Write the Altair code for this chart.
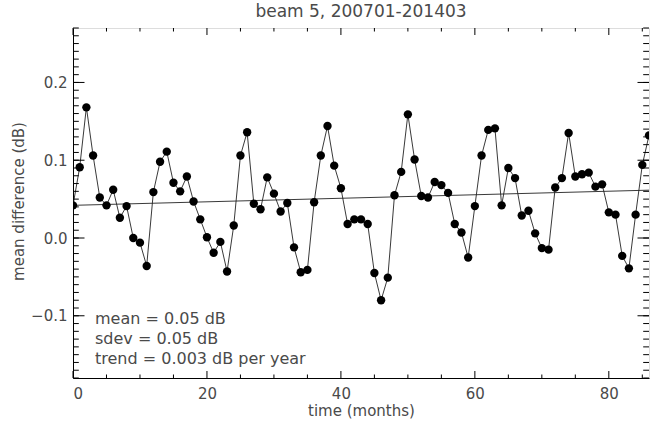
import altair as alt
import pandas as pd

months = list(range(87))
values = [
    0.042, 0.091, 0.168, 0.106, 0.052, 0.042, 0.062, 0.026, 0.041, 0.000,
    -0.006, -0.036, 0.059, 0.098, 0.111, 0.071, 0.060, 0.079, 0.047, 0.024,
    0.001, -0.019, -0.005, -0.043, 0.016, 0.106, 0.136, 0.044, 0.037, 0.078,
    0.057, 0.034, 0.045, -0.012, -0.044, -0.041, 0.046, 0.106, 0.144, 0.093,
    0.064, 0.018, 0.024, 0.024, 0.018, -0.045, -0.080, -0.051, 0.055, 0.085,
    0.159, 0.101, 0.054, 0.052, 0.072, 0.068, 0.058, 0.018, 0.007, -0.025,
    0.041, 0.106, 0.139, 0.141, 0.042, 0.090, 0.077, 0.029, 0.035, 0.006,
    -0.013, -0.015, 0.065, 0.077, 0.135, 0.079, 0.082, 0.084, 0.066, 0.069,
    0.033, 0.030, -0.023, -0.039, 0.030, 0.094, 0.132,
]

# trend line end points
trend_months = [0, 86]
trend_values = [0.042, 0.0615]

x_major = [0, 20, 40, 60, 80]
x_minor = [5, 10, 15, 25, 30, 35, 45, 50, 55, 65, 70, 75, 85]
y_major = [-0.1, 0.0, 0.1, 0.2]
y_minor = [round(-0.18 + 0.01 * i, 2) for i in range(46)]

annotations = ["mean = 0.05 dB", "sdev = 0.05 dB", "trend = 0.003 dB per year"]

W, H = 576, 350
FONT = "DejaVu Sans"
TXT = "#4a4a4a"

df = pd.DataFrame({"month": months, "value": values})
tdf = pd.DataFrame({"month": trend_months, "value": trend_values})

xs = alt.Scale(domain=[0, 86], nice=False, zero=False)
ys = alt.Scale(domain=[-0.18, 0.27], nice=False, zero=False)

base = alt.Chart(df)

line = base.mark_line(color="#222222", strokeWidth=0.9, clip=True).encode(
    x=alt.X("month:Q", scale=xs,
            axis=alt.Axis(values=x_major, ticks=False, grid=False, labelPadding=8,
                          title="time (months)", titleY=32, titleBaseline="middle",
                          domainColor="#000", labelColor=TXT, titleColor=TXT,
                          labelFontSize=15, titleFontSize=15, labelFont=FONT, titleFont=FONT,
                          titleFontWeight="normal")),
    y=alt.Y("value:Q", scale=ys,
            axis=alt.Axis(values=y_major, format=".1f", ticks=False, grid=False, labelPadding=6,
                          title="mean difference (dB)", titleX=-55, titleY=173,
                          titleAngle=270, titleAlign="center", titleBaseline="middle",
                          domainColor="#000", labelColor=TXT, titleColor=TXT,
                          labelFontSize=15, titleFontSize=15, labelFont=FONT, titleFont=FONT,
                          titleFontWeight="normal")),
)

points = base.mark_circle(color="#000000", opacity=1, size=70, clip=True).encode(
    x=alt.X("month:Q", scale=xs), y=alt.Y("value:Q", scale=ys)
)

trend = alt.Chart(tdf).mark_line(color="#222222", strokeWidth=0.9, clip=True).encode(
    x=alt.X("month:Q", scale=xs), y=alt.Y("value:Q", scale=ys)
)

def xticks(vals, length):
    d = pd.DataFrame({"t": vals})
    bot = alt.Chart(d).mark_rule(color="#000", strokeWidth=1).encode(
        x=alt.X("t:Q", scale=xs), y=alt.value(H), y2=alt.value(H - length))
    top = alt.Chart(d).mark_rule(color="#000", strokeWidth=1).encode(
        x=alt.X("t:Q", scale=xs), y=alt.value(0), y2=alt.value(length))
    return [bot, top]

def yticks(vals, length):
    d = pd.DataFrame({"t": vals})
    left = alt.Chart(d).mark_rule(color="#000", strokeWidth=1).encode(
        y=alt.Y("t:Q", scale=ys), x=alt.value(0), x2=alt.value(length))
    right = alt.Chart(d).mark_rule(color="#000", strokeWidth=1).encode(
        y=alt.Y("t:Q", scale=ys), x=alt.value(W), x2=alt.value(W - length))
    return [left, right]

tick_layers = xticks(x_major, 7) + xticks(x_minor, 3.5) + yticks(y_major, 11.5) + yticks(y_minor, 5.8)

text_layers = []
for i, t in enumerate(annotations):
    text_layers.append(
        alt.Chart(pd.DataFrame({"label": [t]})).mark_text(
            align="left", baseline="middle", font=FONT, fontSize=16, color=TXT
        ).encode(text="label:N", x=alt.value(22), y=alt.value(291 + 20 * i))
    )

chart = alt.layer(line, trend, points, *tick_layers, *text_layers).properties(
    width=W, height=H,
    title=alt.TitleParams("beam 5, 200701-201403", fontSize=17, font=FONT, color=TXT,
                          fontWeight="normal", anchor="middle", offset=7),
    autosize=alt.AutoSizeParams(type="none"),
    padding={"left": 73, "top": 28, "right": 1, "bottom": 45},
).configure_view(stroke="#000000", strokeWidth=1).configure(background="white")

chart.save("out.html", embed_options={"renderer": "svg", "actions": False})
